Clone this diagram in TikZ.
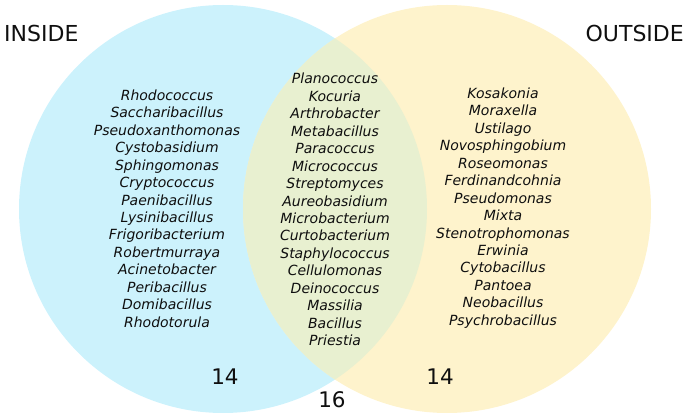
\documentclass[tikz,border=0pt]{standalone}
\usepackage{fontspec}
\setmainfont{DejaVu Sans}
\definecolor{inblue}{RGB}{204,242,252}
\definecolor{outyellow}{RGB}{254,243,204}
\definecolor{overlapgreen}{RGB}{232,240,208}
\definecolor{txt}{RGB}{15,15,15}
\begin{document}
\begin{tikzpicture}[x=1pt,y=-1pt,
  list/.style={align=center,text=txt,inner sep=0pt,font=\itshape\fontsize{14}{17.43}\selectfont},
  heading/.style={text=txt,inner sep=0pt,font=\fontsize{22}{26}\selectfont},
  count/.style={text=txt,inner sep=0pt,font=\fontsize{21.5}{25}\selectfont}]
\useasboundingbox (0,0) rectangle (685,419);
\fill[inblue] (223,209) circle (204);
\fill[outyellow] (447,209) circle (204);
\begin{scope}
  \clip (223,209) circle (204);
  \fill[overlapgreen] (447,209) circle (204);
\end{scope}
\node[heading,anchor=base west] (inside) at (4,42) {INSIDE};
\node[heading,anchor=base east] (outside) at (684,42) {OUTSIDE};
\node[list] (leftlist) at (167,208.5) {Rhodococcus\\Saccharibacillus\\Pseudoxanthomonas\\Cystobasidium\\Sphingomonas\\Cryptococcus\\Paenibacillus\\Lysinibacillus\\Frigoribacterium\\Robertmurraya\\Acinetobacter\\Peribacillus\\Domibacillus\\Rhodotorula};
\node[list] (midlist) at (335,209.5) {Planococcus\\Kocuria\\Arthrobacter\\Metabacillus\\Paracoccus\\Micrococcus\\Streptomyces\\Aureobasidium\\Microbacterium\\Curtobacterium\\Staphylococcus\\Cellulomonas\\Deinococcus\\Massilia\\Bacillus\\Priestia};
\node[list] (rightlist) at (503,208) {Kosakonia\\Moraxella\\Ustilago\\Novosphingobium\\Roseomonas\\Ferdinandcohnia\\Pseudomonas\\Mixta\\Stenotrophomonas\\Erwinia\\Cytobacillus\\Pantoea\\Neobacillus\\Psychrobacillus};
\node[count,anchor=base] (nleft) at (225,384) {14};
\node[count,anchor=base] (nmid) at (332,407) {16};
\node[count,anchor=base] (nright) at (440,384) {14};
\end{tikzpicture}
\end{document}
